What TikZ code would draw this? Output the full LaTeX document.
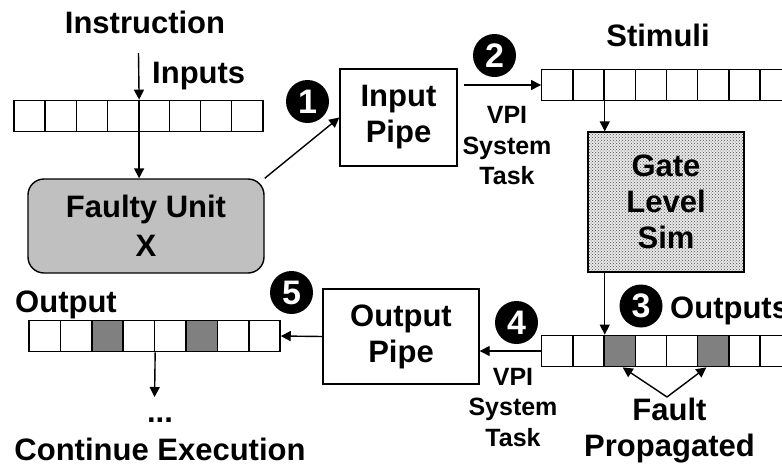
\documentclass[tikz,border=0pt]{standalone}
\usepackage{fontspec}
\setmainfont{Liberation Sans}
\usetikzlibrary{arrows.meta,patterns}
\definecolor{unitgray}{RGB}{192,192,192}
\definecolor{faultgray}{RGB}{128,128,128}
\begin{document}
\begin{tikzpicture}[x=1pt, y=-1pt,
    lbl/.style={font=\fontsize{31}{36}\selectfont\bfseries, align=center, inner sep=0pt},
    small/.style={font=\fontsize{25}{30.5}\selectfont\bfseries, align=center, inner sep=0pt},
    cell/.style={draw, line width=1.3pt, fill=#1, minimum width=31.2pt, minimum height=31.5pt, inner sep=0pt},
    cell/.default=white,
    box/.style={draw, line width=1.4pt, lbl},
    numdot/.style={circle, fill=black, text=white, minimum size=43pt, inner sep=0pt, font=\fontsize{34}{34}\selectfont\bfseries},
    arrow/.style={-{Triangle[length=10pt, width=10pt]}, line width=1.4pt}
]
    \clip (0,0) rectangle (782,469);

    % registers
    \foreach \i in {1,...,8}
        \node[cell] (in\i) at ({14+31.1*(\i-0.5)},116) {};
    \foreach \i in {1,...,8}
        \node[cell] (st\i) at ({541.7+31.2*(\i-0.5)},85) {};
    \foreach \i/\c in {1/white,2/white,3/faultgray,4/white,5/white,6/faultgray,7/white,8/white}
        \node[cell=\c] (out\i) at ({541.7+31.2*(\i-0.5)},351) {};
    \foreach \i/\c in {1/white,2/white,3/faultgray,4/white,5/white,6/faultgray,7/white,8/white}
        \node[cell=\c] (or\i) at ({29+31.4*(\i-0.5)},336) {};

    % blocks
    \node[box, fill=unitgray, rounded corners=16pt, minimum width=236pt, minimum height=94pt,
          font=\fontsize{31}{39}\selectfont\bfseries] (faulty) at (146,226) {Faulty Unit\\X};
    \node[box, minimum width=117pt, minimum height=97pt] (inpipe) at (398.5,117.5) {Input\\Pipe};
    \node[box, preaction={fill=gray!18}, pattern=crosshatch dots, pattern color=black!70,
          minimum width=156pt, minimum height=140pt] (gate) at (666,202) {Gate\\Level\\Sim};
    \node[box, minimum width=156pt, minimum height=95pt] (opipe) at (401,336.5) {Output\\Pipe};

    % labels
    \node[lbl, anchor=base] (instr) at (145,33) {Instruction};
    \node[lbl, anchor=base west] (inputs) at (152,83) {Inputs};
    \node[lbl, anchor=base] (stimuli) at (658,46) {Stimuli};
    \node[lbl, anchor=base west] (outputs) at (670,318) {Outputs};
    \node[lbl, anchor=base west] (output) at (15,312) {Output};
    \node[small] (vpiin) at (507,146) {VPI\\System\\Task};
    \node[small] (vpiout) at (513,407.5) {VPI\\System\\Task};
    \node[lbl] (fault) at (669.5,430.5) {Fault\\Propagated};
    \node[lbl, anchor=base] (dots) at (160,422) {...};
    \node[lbl, anchor=base] (cont) at (160,460) {Continue Execution};

    % step numbers
    \node[numdot] (n1) at (307.5,101.5) {1};
    \node[numdot] (n2) at (494.5,55.5) {2};
    \node[numdot] (n3) at (641,306) {3};
    \node[numdot] (n4) at (516.5,322.5) {4};
    \node[numdot] (n5) at (291.5,292.5) {5};

    % connectors
    \coordinate (instrfoot) at (138.5,53);
    \coordinate (contfoot) at (154.6,397);
    \coordinate (faultapex) at (667,397);
    \draw[arrow] (instrfoot) -- (in4.north east);
    \draw[arrow] (in4.north east) -- (in4.north east |- faulty.north);
    \draw[arrow] (faulty.north east) -- (inpipe.west);
    \draw[arrow] ([xshift=6pt]inpipe.east |- st1.west) -- (st1.west);
    \draw[arrow] (st2.south east) -- (st2.south east |- gate.north);
    \draw[arrow] (out2.north east |- gate.south) -- (out2.north east);
    \draw[arrow] (out1.west) -- (out1.west -| opipe.east);
    \draw[arrow] (opipe.west) -- (or8.east);
    \draw[arrow] (or4.south east) -- (contfoot);
    \draw[arrow] (faultapex) -- ([xshift=3pt]out3.south);
    \draw[arrow] (faultapex) -- ([xshift=-7pt]out6.south);
\end{tikzpicture}
\end{document}
